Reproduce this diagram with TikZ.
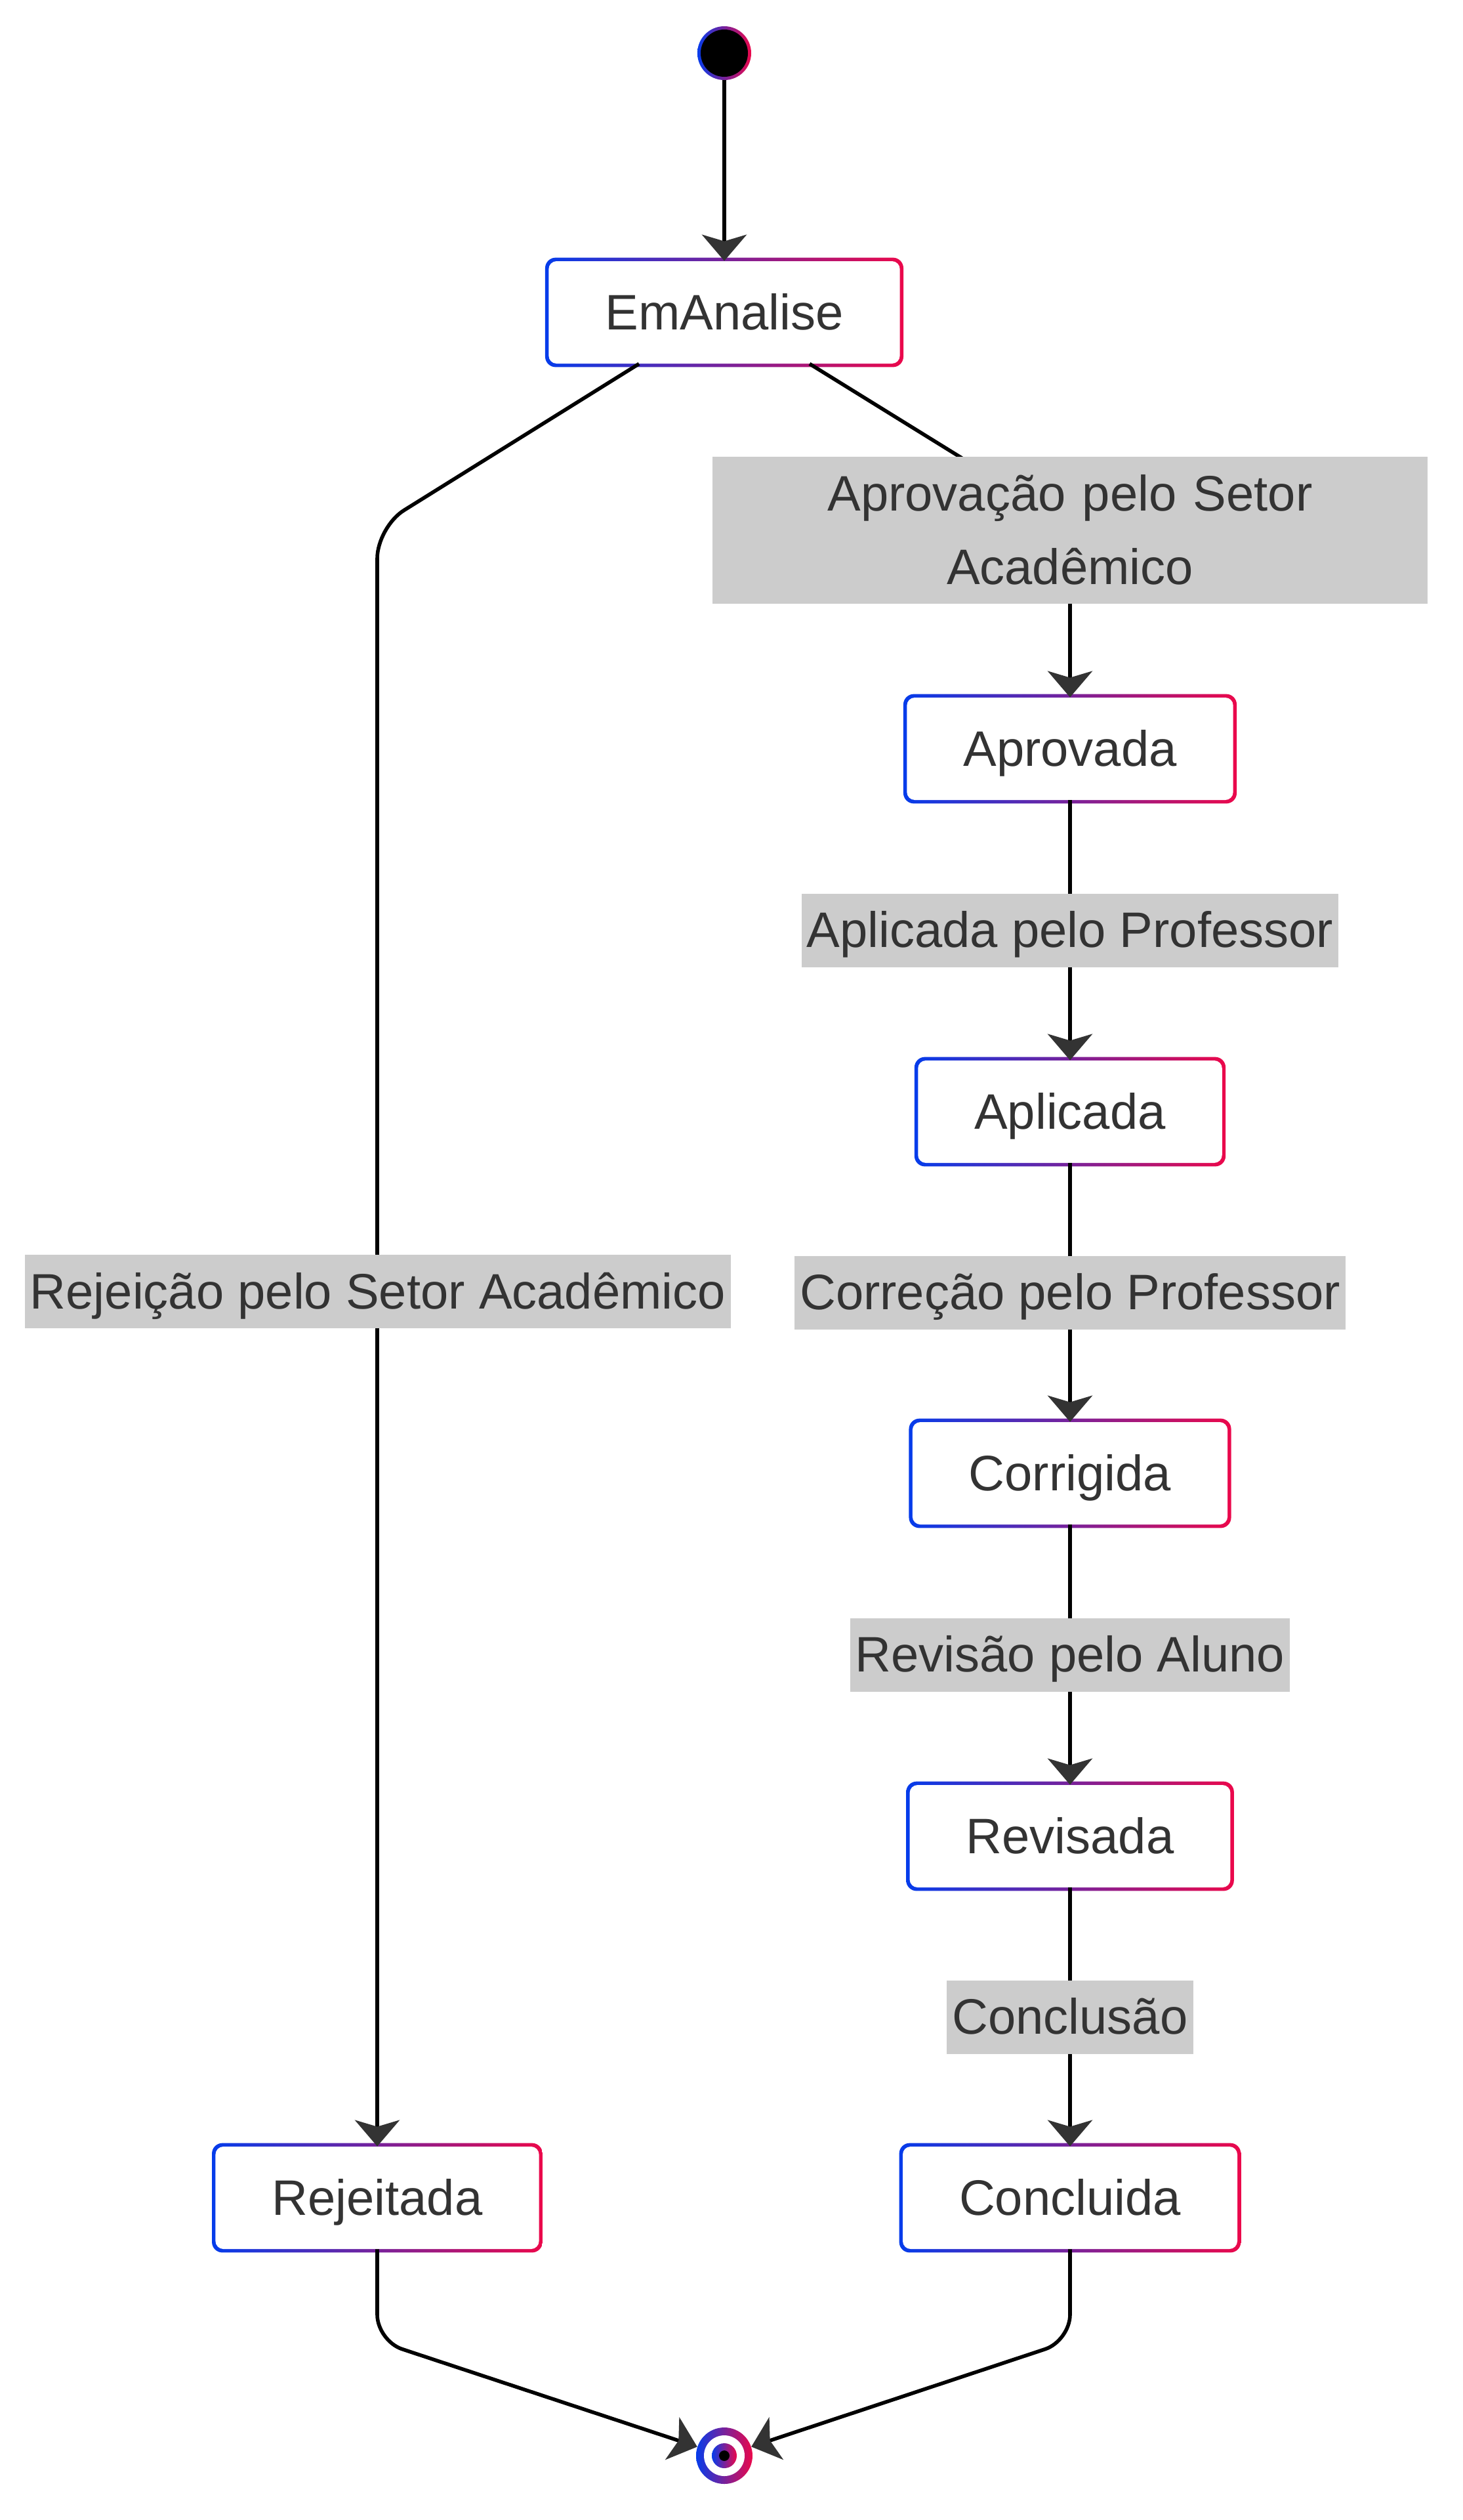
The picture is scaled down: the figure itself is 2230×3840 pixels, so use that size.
\documentclass[tikz,border=0pt]{standalone}
\usepackage{fontspec}
\setmainfont{Liberation Sans}
\usepackage{tikz}
\usetikzlibrary{positioning,arrows.meta,calc,backgrounds}
\definecolor{ringblue}{RGB}{5,60,235}
\definecolor{ringred}{RGB}{235,8,75}
\definecolor{inkc}{RGB}{51,51,51}
\definecolor{lblc}{RGB}{204,204,204}
\newcommand{\statefont}{\fontsize{38}{56}\selectfont}
\tikzset{
  statebox/.style = {fill=white, rounded corners=6pt, minimum height=78pt, inner xsep=43pt,
                     text height=34pt, text depth=7.6pt, font=\statefont, text=inkc},
  ring/.style     = {left color=ringblue, right color=ringred, draw=none},
  lbl/.style      = {fill=lblc, text=inkc, font=\statefont, inner xsep=4pt, inner ysep=0pt,
                     text height=41pt, text depth=15pt},
  flow/.style     = {-{Stealth[length=20pt, width=34pt, inset=5pt, color=inkc]},
                     line width=2.8pt, draw=black},
}
\begin{document}
\begin{tikzpicture}[x=0.5pt, y=-0.5pt]
\useasboundingbox (0,0) rectangle (2230,3840);

% ---- pseudo states ----
\node[circle, ring, minimum size=41pt, inner sep=0pt] (init) at (1104,81) {};
\fill[black] (init) circle (18pt);
\node[circle, ring, minimum size=43pt, inner sep=0pt] (fin) at (1104,3742) {};
\fill[white] (fin) circle (15.5pt);
\shade[ring] (fin) circle (9.5pt);
\fill[black] (fin) circle (4pt);

% ---- states ----
\node[statebox] (emanalise) at (1104,476)  {EmAnalise};
\node[statebox] (aprovada)  at (1631,1141) {Aprovada};
\node[statebox] (aplicada)  at (1631,1694) {Aplicada};
\node[statebox] (corrigida) at (1631,2245) {Corrigida};
\node[statebox] (revisada)  at (1631,2798) {Revisada};
\node[statebox] (concluida) at (1631,3349) {Concluida};
\node[statebox] (rejeitada) at (575,3349)  {Rejeitada};

% gradient borders behind the boxes
\begin{scope}[on background layer]
  \foreach \s in {emanalise,aprovada,aplicada,corrigida,revisada,concluida,rejeitada}
    \shade[ring, rounded corners=8pt] ([shift={(-2.5pt,-2.5pt)}]\s.south west)
      rectangle ([shift={(2.5pt,2.5pt)}]\s.north east);
\end{scope}

% ---- transitions ----
\draw[flow] (init) -- (emanalise);
\draw[flow, rounded corners=24pt] ([xshift=-65pt]emanalise.south) -- (575,803) -- (rejeitada);
\draw[flow, rounded corners=24pt] ([xshift=65pt]emanalise.south) -- (1631,800) -- (aprovada);
\draw[flow] (aprovada) -- node[lbl] (laplic) {Aplicada pelo Professor} (aplicada);
\draw[flow] (aplicada) -- node[lbl] (lcorr) {Correção pelo Professor} (corrigida);
\draw[flow] (corrigida) -- node[lbl] (lrev) {Revisão pelo Aluno} (revisada);
\draw[flow] (revisada) -- node[lbl] (lconc) {Conclusão} (concluida);
\draw[flow, rounded corners=20pt] (rejeitada) -- (575,3567) -- (fin);
\draw[flow, rounded corners=20pt] (concluida) -- (1631,3567) -- (fin);

\node[lbl, text width=537pt, align=center, text depth=71pt] (laprov) at (1631,808)
  {Aprovação pelo Setor\\Acadêmico};
\node[lbl] (lrej) at (576,1968) {Rejeição pelo Setor Acadêmico};

\end{tikzpicture}
\end{document}
